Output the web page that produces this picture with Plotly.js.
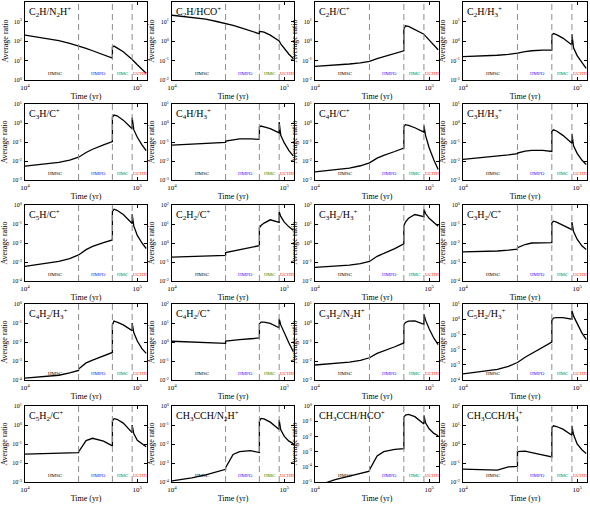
<!DOCTYPE html>
<html>
<head>
<meta charset="utf-8">
<script src="https://cdn.plot.ly/plotly-3.0.1.min.js"></script>
<style>html,body{margin:0;padding:0;background:#fff}</style>
</head>
<body>
<div id="chart" style="width:590px;height:507px"></div>
<script>
// time grid (yr); repeated times are the jumps at phase boundaries
var time = [1e4, 1.5e4, 2e4, 2.5e4, 3e4, 3e4, 3.5e4, 4e4, 5e4, 6e4, 6e4, 6.2e4, 6.6e4, 7.5e4, 9e4, 9e4, 9.3e4, 1e5, 1.1e5, 1.2e5]

var phaseStarts = [3e4, 6e4, 9e4]
var phaseNames = ['HMSC', 'HMPO', 'HMC', 'UCHII']
var phaseColors = ['#000000', '#1515ff', '#108a10', '#ff1515']
var phaseLabelTime = [1.85e4, 4.5e4, 7.5e4, 1.05e5]

var panelLabels = [
  'C<sub>2</sub>H/N<sub>2</sub>H<sup>+</sup>', 'C<sub>2</sub>H/HCO<sup>+</sup>', 'C<sub>2</sub>H/C<sup>+</sup>', 'C<sub>2</sub>H/H<sub>3</sub><sup>+</sup>',
  'C<sub>3</sub>H/C<sup>+</sup>', 'C<sub>4</sub>H/H<sub>3</sub><sup>+</sup>', 'C<sub>4</sub>H/C<sup>+</sup>', 'C<sub>3</sub>H/H<sub>3</sub><sup>+</sup>',
  'C<sub>5</sub>H/C<sup>+</sup>', 'C<sub>2</sub>H<sub>2</sub>/C<sup>+</sup>', 'C<sub>3</sub>H<sub>2</sub>/H<sub>3</sub><sup>+</sup>', 'C<sub>3</sub>H<sub>2</sub>/C<sup>+</sup>',
  'C<sub>4</sub>H<sub>2</sub>/H<sub>3</sub><sup>+</sup>', 'C<sub>4</sub>H<sub>2</sub>/C<sup>+</sup>', 'C<sub>3</sub>H<sub>2</sub>/N<sub>2</sub>H<sup>+</sup>', 'C<sub>5</sub>H<sub>2</sub>/H<sub>3</sub><sup>+</sup>',
  'C<sub>5</sub>H<sub>2</sub>/C<sup>+</sup>', 'CH<sub>3</sub>CCH/N<sub>2</sub>H<sup>+</sup>', 'CH<sub>3</sub>CCH/HCO<sup>+</sup>', 'CH<sub>3</sub>CCH/H<sub>3</sub><sup>+</sup>'
]

// y-axis limits, as powers of ten
var yLow = [0, -2, -2, -2, -3, -3, -3, -3, -4, -2, -2, -4, -4, -2, -3, -4, -3, -4, -5, -2]
var yHigh = [4, 2, 2, 2, 1, 1, 1, 1, 0, 2, 2, 0, 0, 2, 1, 1, 1, 0, 0, 2]

// log10 of the average ratios, one array per panel
var c2h_n2h = [2.3, 2.15, 2.02, 1.88, 1.76, 1.76, 1.62, 1.5, 1.3, 1.12, 1.68, 1.74, 1.65, 1.45, 1.05, 1.05, 0.95, 0.78, 0.55, 0.35]
var c2h_hco = [1.32, 1.22, 1.12, 1.0, 0.9, 0.9, 0.8, 0.7, 0.53, 0.37, 0.5, 0.49, 0.45, 0.3, 0.0, 0.0, -0.15, -0.4, -0.68, -0.9]
var c2h_c = [-1.3, -1.25, -1.18, -1.12, -1.05, -1.05, -0.9, -0.8, -0.65, -0.5, 0.6, 0.78, 0.75, 0.6, 0.35, 0.35, 0.25, 0.05, -0.2, -0.45]
var c2h_h3 = [-0.8, -0.77, -0.73, -0.69, -0.65, -0.62, -0.55, -0.5, -0.47, -0.47, 0.3, 0.38, 0.33, 0.15, -0.2, 0.35, -0.35, -0.75, -1.1, -1.4]
var c3h_c = [-2.27, -2.17, -2.07, -1.95, -1.82, -1.8, -1.55, -1.38, -1.15, -0.98, 0.3, 0.42, 0.38, 0.15, -0.3, 0.29, -0.35, -0.75, -1.15, -1.46]
var c4h_h3 = [-1.16, -1.12, -1.09, -1.05, -1.02, -0.95, -0.87, -0.84, -0.84, -0.86, -0.2, -0.16, -0.2, -0.3, -0.52, 0.05, -0.65, -1.05, -1.45, -1.73]
var c4h_c = [-2.57, -2.47, -2.37, -2.25, -2.12, -2.1, -1.85, -1.7, -1.5, -1.32, -0.2, -0.09, -0.12, -0.25, -0.48, -0.13, -0.65, -1.3, -1.95, -2.45]
var c3h_h3 = [-1.91, -1.82, -1.75, -1.68, -1.61, -1.58, -1.48, -1.44, -1.44, -1.5, -0.45, -0.36, -0.42, -0.65, -1.07, -0.57, -1.2, -1.6, -1.95, -2.18]
var c5h_c = [-3.23, -3.1, -2.97, -2.82, -2.65, -2.63, -2.35, -2.18, -1.98, -1.84, -0.35, -0.22, -0.28, -0.5, -0.97, -0.49, -1.1, -1.6, -2.0, -2.29]
var c2h2_c = [-0.74, -0.72, -0.7, -0.68, -0.65, -0.5, -0.42, -0.36, -0.25, -0.14, 0.8, 0.92, 1.05, 1.22, 1.08, 1.64, 1.4, 1.1, 0.85, 0.67]
var c3h2_h3 = [-1.28, -1.22, -1.16, -1.09, -1.0, -0.97, -0.7, -0.55, -0.3, -0.05, 0.9, 1.1, 1.3, 1.5, 1.39, 1.78, 1.55, 1.3, 1.08, 0.88]
var c3h2_c = [-2.47, -2.45, -2.42, -2.38, -2.32, -2.25, -2.08, -2.0, -1.97, -1.98, -0.95, -0.85, -0.9, -1.05, -1.3, -0.9, -1.4, -1.8, -2.15, -2.34]
var c4h2_h3 = [-3.9, -3.83, -3.75, -3.63, -3.5, -3.42, -3.1, -2.95, -2.72, -2.55, -1.1, -0.9, -0.95, -1.1, -1.4, -1.0, -1.5, -1.95, -2.35, -2.6]
var c4h2_c = [0.04, 0.0, -0.04, -0.06, -0.07, 0.05, 0.1, 0.13, 0.17, 0.21, 0.95, 1.05, 1.05, 0.98, 0.75, 1.23, 0.9, 0.45, -0.05, -0.5]
var c3h2_n2h = [-2.21, -2.14, -2.06, -1.97, -1.86, -1.83, -1.6, -1.48, -1.25, -1.05, -0.1, 0.03, 0.1, 0.11, -0.07, 0.46, 0.15, -0.3, -0.8, -1.14]
var c5h2_h3 = [-3.6, -3.45, -3.3, -3.1, -2.89, -2.85, -2.5, -2.25, -1.85, -1.51, -0.1, 0.08, 0.11, 0.11, 0.0, 0.56, 0.2, -0.3, -0.9, -1.33]
var c5h2_c = [-1.53, -1.51, -1.5, -1.48, -1.46, -1.42, -0.82, -0.7, -0.85, -1.1, 0.2, 0.33, 0.3, 0.1, -0.4, 0.0, -0.45, -0.8, -1.0, -1.14]
var ch3cch_n2h = [-3.94, -3.78, -3.62, -3.47, -3.33, -3.25, -2.55, -2.4, -2.35, -2.45, -0.8, -0.65, -0.68, -0.85, -1.24, -0.74, -1.25, -1.6, -1.85, -1.98]
var ch3cch_hco = [-5.3, -4.84, -4.62, -4.45, -4.29, -4.2, -3.29, -3.0, -2.86, -2.8, -0.75, -0.6, -0.55, -0.7, -1.18, -0.62, -1.1, -1.5, -1.8, -1.96]
var ch3cch_h3 = [-1.32, -1.36, -1.38, -1.2, -1.18, -0.4, -0.38, -0.45, -0.58, -0.68, 0.85, 0.96, 0.92, 0.78, 0.46, 0.96, 0.5, 0.0, -0.3, -0.5]

var panels = [c2h_n2h, c2h_hco, c2h_c, c2h_h3, c3h_c, c4h_h3, c4h_c, c3h_h3, c5h_c, c2h2_c,
  c3h2_h3, c3h2_c, c4h2_h3, c4h2_c, c3h2_n2h, c5h2_h3, c5h2_c, ch3cch_n2h, ch3cch_hco, ch3cch_h3]

// plot-area edges in pixels
var W = 590, H = 507
var colEdges = [[25, 147], [172, 294], [315, 439], [463, 587]]
var rowEdges = [[2, 80], [104, 180], [205, 281], [304, 380], [406, 482]]

var fontFamily = 'Liberation Serif, Times New Roman, serif'
var data = []
var layout = {
  width: W, height: H,
  margin: {l: 0, r: 0, t: 0, b: 0},
  showlegend: false,
  paper_bgcolor: '#fff', plot_bgcolor: '#fff',
  font: {family: fontFamily, color: '#000', size: 7},
  shapes: [], annotations: []
}

panels.forEach(function (vals, i) {
  var n = i + 1
  var row = Math.floor(i / 4), col = i % 4
  var xa = 'xaxis' + (n === 1 ? '' : n), ya = 'yaxis' + (n === 1 ? '' : n)
  var xr = 'x' + (n === 1 ? '' : n), yr = 'y' + (n === 1 ? '' : n)

  data.push({
    x: time,
    y: vals.map(function (v) { return Math.pow(10, v) }),
    xaxis: xr, yaxis: yr,
    type: 'scatter', mode: 'lines',
    line: {color: '#000', width: 1.3},
    hoverinfo: 'skip'
  })

  var tv = [], tt = []
  for (var p = yLow[i]; p <= yHigh[i]; p++) {
    tv.push(Math.pow(10, p))
    tt.push('10<sup>' + p + '</sup>')
  }

  layout[xa] = {
    type: 'log',
    domain: [colEdges[col][0] / W, colEdges[col][1] / W],
    range: [4, Math.log10(1.22e5)],
    anchor: yr,
    tickvals: [1e4, 1e5], ticktext: ['10<sup>4</sup>', '10<sup>5</sup>'],
    ticks: 'inside', ticklen: 3, tickcolor: '#000',
    showline: true, linecolor: '#000', linewidth: 1, mirror: 'ticks',
    showgrid: false, zeroline: false,
    tickfont: {size: 7, family: fontFamily},
    ticklabelstandoff: 1,
    title: {text: 'Time (yr)', font: {size: 8, family: fontFamily}, standoff: 1}
  }
  layout[ya] = {
    type: 'log',
    domain: [1 - rowEdges[row][1] / H, 1 - rowEdges[row][0] / H],
    range: [yLow[i], yHigh[i]],
    anchor: xr,
    tickvals: tv, ticktext: tt,
    ticks: 'inside', ticklen: 3, tickcolor: '#000',
    showline: true, linecolor: '#000', linewidth: 1, mirror: 'ticks',
    showgrid: false, zeroline: false,
    tickfont: {size: 6, family: fontFamily},
    ticklabelstandoff: 1,
    title: {text: 'Average ratio', font: {size: 8, family: fontFamily}, standoff: 3}
  }

  phaseStarts.forEach(function (t) {
    layout.shapes.push({
      type: 'line', xref: xr, yref: yr + ' domain',
      x0: t, x1: t, y0: 0, y1: 1,
      line: {color: '#8c8c8c', width: 1, dash: '6px,4px'}
    })
  })

  phaseNames.forEach(function (name, k) {
    layout.annotations.push({
      xref: xr, yref: yr + ' domain',
      x: Math.log10(phaseLabelTime[k]), y: 0.03,
      text: name, showarrow: false,
      xanchor: 'center', yanchor: 'bottom',
      font: {size: 5, color: phaseColors[k], family: fontFamily}
    })
  })

  layout.annotations.push({
    xref: xr + ' domain', yref: yr + ' domain',
    x: 0.02, y: 0.99, xanchor: 'left', yanchor: 'top',
    text: panelLabels[i], showarrow: false,
    font: {size: 10, family: fontFamily}
  })
})

Plotly.newPlot('chart', data, layout, {displayModeBar: false, staticPlot: true})
</script>
</body>
</html>
